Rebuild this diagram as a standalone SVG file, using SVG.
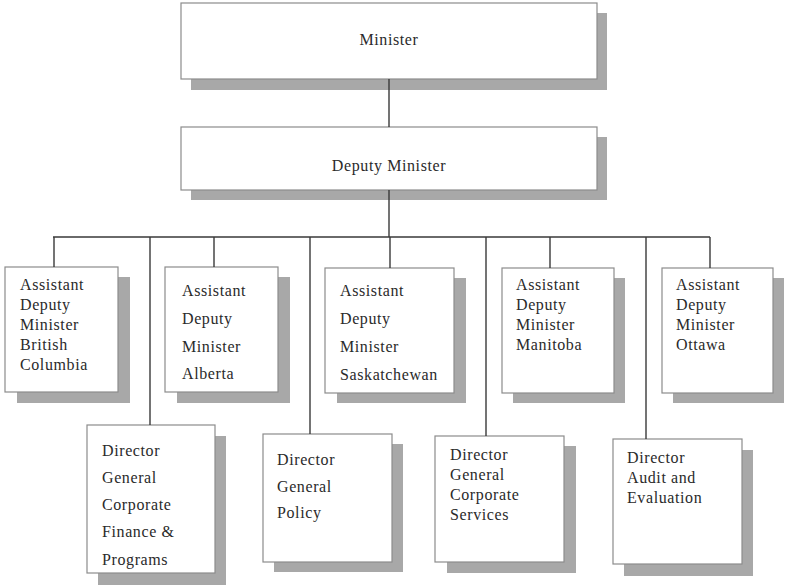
<svg xmlns="http://www.w3.org/2000/svg" width="787" height="588" viewBox="0 0 787 588">
<style>
.sh{fill:#a8a8a8;stroke:none}
.bx{fill:#fff;stroke:#8c8c8c;stroke-width:1.2}
.t{font-family:"Liberation Serif","Times New Roman",serif;font-size:16px;letter-spacing:0.6px;fill:#2a2a2a}
.c{text-anchor:middle}
.ln{stroke:#3a3a3a;stroke-width:1.4;fill:none}
</style>
<rect width="787" height="588" fill="#fff"/>
<g id="minister">
<rect class="sh" x="191" y="13" width="416" height="77"/>
<rect class="bx" x="181" y="3" width="416" height="76"/>
<text class="t c" x="389" y="45">Minister</text>
</g>
<g id="deputy-minister">
<rect class="sh" x="191" y="137" width="416" height="63"/>
<rect class="bx" x="181" y="127" width="416" height="63"/>
<text class="t c" x="389" y="171">Deputy Minister</text>
</g>
<g id="adm-bc">
<rect class="sh" x="17" y="277" width="113" height="126"/>
<rect class="bx" x="5" y="267" width="113" height="125"/>
<text class="t" x="20" y="290">Assistant</text>
<text class="t" x="20" y="310">Deputy</text>
<text class="t" x="20" y="330">Minister</text>
<text class="t" x="20" y="350">British</text>
<text class="t" x="20" y="370">Columbia</text>
</g>
<g id="adm-alberta">
<rect class="sh" x="177" y="277" width="113" height="126"/>
<rect class="bx" x="165" y="267" width="113" height="125"/>
<text class="t" x="182" y="296">Assistant</text>
<text class="t" x="182" y="324">Deputy</text>
<text class="t" x="182" y="352">Minister</text>
<text class="t" x="182" y="379">Alberta</text>
</g>
<g id="adm-saskatchewan">
<rect class="sh" x="337" y="278" width="129" height="125"/>
<rect class="bx" x="325" y="268" width="129" height="125"/>
<text class="t" x="340" y="296">Assistant</text>
<text class="t" x="340" y="324">Deputy</text>
<text class="t" x="340" y="352">Minister</text>
<text class="t" x="340" y="380">Saskatchewan</text>
</g>
<g id="adm-manitoba">
<rect class="sh" x="513" y="278" width="112" height="125"/>
<rect class="bx" x="502" y="268" width="112" height="125"/>
<text class="t" x="516" y="290">Assistant</text>
<text class="t" x="516" y="310">Deputy</text>
<text class="t" x="516" y="330">Minister</text>
<text class="t" x="516" y="350">Manitoba</text>
</g>
<g id="adm-ottawa">
<rect class="sh" x="673" y="278" width="111" height="125"/>
<rect class="bx" x="662" y="268" width="111" height="125"/>
<text class="t" x="676" y="290">Assistant</text>
<text class="t" x="676" y="310">Deputy</text>
<text class="t" x="676" y="330">Minister</text>
<text class="t" x="676" y="350">Ottawa</text>
</g>
<g id="dg-corporate-finance">
<rect class="sh" x="98" y="436" width="128" height="149"/>
<rect class="bx" x="87" y="425" width="128" height="148"/>
<text class="t" x="102" y="456">Director</text>
<text class="t" x="102" y="483">General</text>
<text class="t" x="102" y="510">Corporate</text>
<text class="t" x="102" y="537">Finance &amp;</text>
<text class="t" x="102" y="565">Programs</text>
</g>
<g id="dg-policy">
<rect class="sh" x="274" y="444" width="129" height="128"/>
<rect class="bx" x="263" y="434" width="129" height="128"/>
<text class="t" x="277" y="465">Director</text>
<text class="t" x="277" y="492">General</text>
<text class="t" x="277" y="518">Policy</text>
</g>
<g id="dg-corporate-services">
<rect class="sh" x="447" y="446" width="129" height="127"/>
<rect class="bx" x="435" y="436" width="129" height="126"/>
<text class="t" x="450" y="460">Director</text>
<text class="t" x="450" y="480">General</text>
<text class="t" x="450" y="500">Corporate</text>
<text class="t" x="450" y="520">Services</text>
</g>
<g id="director-audit">
<rect class="sh" x="624" y="450" width="129" height="126"/>
<rect class="bx" x="613" y="439" width="129" height="125"/>
<text class="t" x="627" y="463">Director</text>
<text class="t" x="627" y="483">Audit and</text>
<text class="t" x="627" y="503">Evaluation</text>
</g>
<g id="connectors">
<path class="ln" d="M389 79V127M389 190V237M53 237H710"/>
<path class="ln" d="M54 237V267M214 237V267M390 237V268M550 237V268M710 237V268"/>
<path class="ln" d="M150 237V425M310 237V434M486 237V436M646 237V439"/>
</g>
</svg>
